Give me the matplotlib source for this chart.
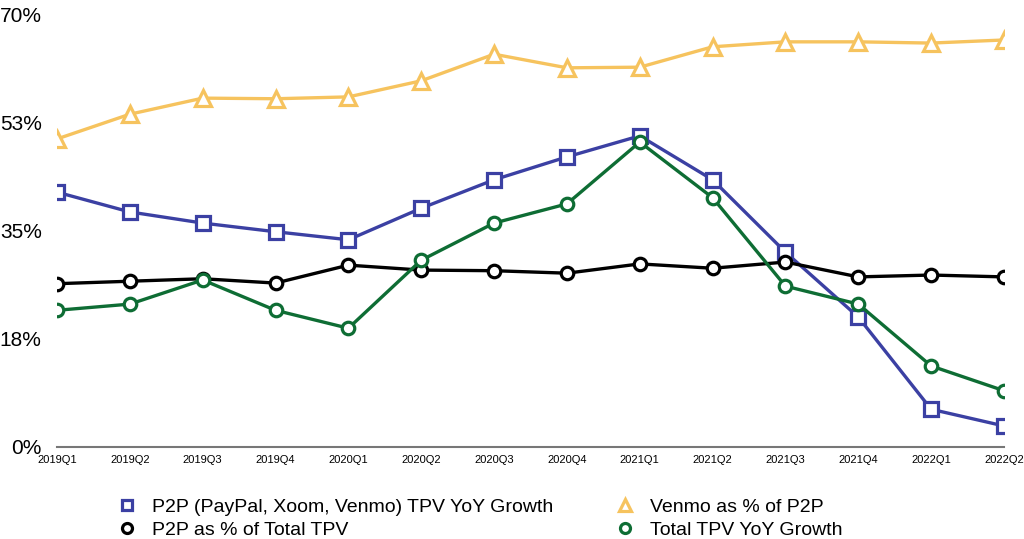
import matplotlib
matplotlib.use("Agg")
import matplotlib.pyplot as plt
import numpy as np

plt.rcParams['font.family'] = ['Liberation Sans', 'DejaVu Sans']

quarters = ["2019Q1", "2019Q2", "2019Q3", "2019Q4", "2020Q1", "2020Q2", "2020Q3",
            "2020Q4", "2021Q1", "2021Q2", "2021Q3", "2021Q4", "2022Q1", "2022Q2"]
p2p_growth = [41.2, 38.0, 36.2, 34.8, 33.5, 38.6, 43.2, 46.9, 50.3, 43.2, 31.5, 21.0, 6.1, 3.4]
venmo_pct = [49.8, 53.8, 56.4, 56.3, 56.6, 59.2, 63.5, 61.3, 61.4, 64.7, 65.5, 65.5, 65.3, 65.8]
p2p_pct_total = [26.4, 26.8, 27.2, 26.5, 29.4, 28.6, 28.5, 28.1, 29.6, 28.9, 29.9, 27.5, 27.8, 27.5]
total_growth = [22.1, 23.1, 27.0, 22.1, 19.2, 30.2, 36.2, 39.3, 49.3, 40.3, 26.0, 23.1, 13.1, 9.1]
y_ticks = [0, 17.5, 35, 52.5, 70]
y_tick_labels = ["0%", "18%", "35%", "53%", "70%"]

fig = plt.figure(figsize=(10.24, 5.39), dpi=100)
ax = fig.add_axes([57/1024, 1-447/539, (1004-57)/1024, (447-14)/539])

x = np.arange(len(quarters))
lw = 2.4
h1, = ax.plot(x, p2p_growth, color="#3b40a3", lw=lw, marker="s", ms=9.5,
              mfc="white", mec="#3b40a3", mew=2.3, label="P2P (PayPal, Xoom, Venmo) TPV YoY Growth", zorder=3)
h2, = ax.plot(x, venmo_pct, color="#f6c35e", lw=lw, marker="^", ms=11,
              mfc="white", mec="#f6c35e", mew=2.3, label="Venmo as % of P2P", zorder=3)
h3, = ax.plot(x, p2p_pct_total, color="black", lw=lw, marker="o", ms=9,
              mfc="white", mec="black", mew=2.3, label="P2P as % of Total TPV", zorder=3)
h4, = ax.plot(x, total_growth, color="#0e6d34", lw=lw, marker="o", ms=9,
              mfc="white", mec="#0e6d34", mew=2.3, label="Total TPV YoY Growth", zorder=3)

ax.set_xlim(0, len(quarters)-1)
ax.set_ylim(0, 70)
ax.set_xticks(x)
ax.set_xticklabels(quarters, fontsize=8)
ax.set_yticks(y_ticks)
ax.set_yticklabels(y_tick_labels, fontsize=15)
ax.tick_params(axis='x', length=0, pad=6)
ax.tick_params(axis='y', length=0, pad=11)
for s in ["top", "right", "left"]:
    ax.spines[s].set_visible(False)
ax.spines["bottom"].set_color("#777777")
ax.spines["bottom"].set_linewidth(1.5)
for sp in ax.spines.values():
    sp.set_clip_on(False)

leg = fig.legend(handles=[h1, h3, h2, h4], ncol=2, loc="center left",
                 bbox_to_anchor=(99.5/1024, 1-518.5/539), frameon=False, fontsize=14,
                 handlelength=1.0, handletextpad=0.79, columnspacing=3.2,
                 labelspacing=0.25, markerscale=0.8)
for line in leg.get_lines():
    line.set_linestyle("none")

fig.savefig("out.png", dpi=100)
